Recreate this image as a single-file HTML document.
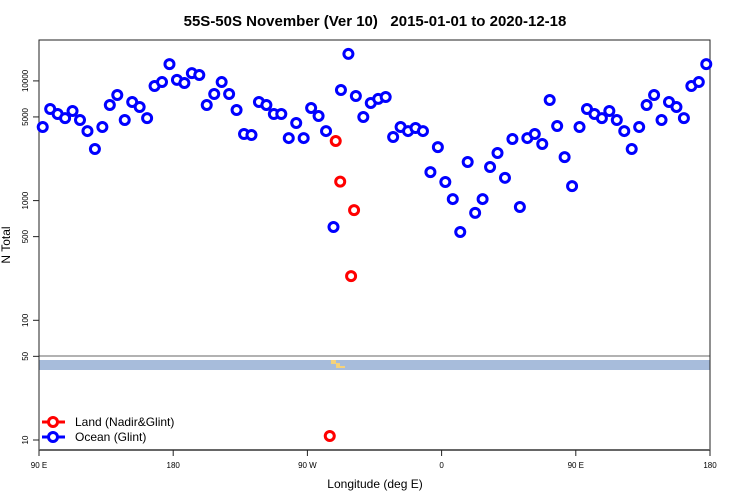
<!DOCTYPE html>
<html><head><meta charset="utf-8"><style>
body{margin:0;background:#fff}
svg{display:block;font-family:"Liberation Sans",sans-serif}
</style></head><body>
<svg id="chart" width="750" height="500">
<text x="375" y="26" text-anchor="middle" font-size="15" font-weight="bold" style="white-space:pre">55S-50S November (Ver 10)   2015-01-01 to 2020-12-18</text>
<rect x="39" y="360" width="671" height="10" fill="#a7bcdb"/>
<path d="M331,360 h5 v3 h4 v3 h5 v2 h-9 v-4 h-5z" fill="#f5d27a"/>
<line x1="39" y1="356" x2="710" y2="356" stroke="#999" stroke-width="1.5"/>
<path d="M39,450 V40 H710 V450" fill="none" stroke="#222" stroke-width="1"/>
<line x1="39" y1="450" x2="710" y2="450" stroke="#666" stroke-width="2"/>
<g id="yaxis"></g><g id="xaxis"></g><g id="marks"></g>
<text x="375" y="488" text-anchor="middle" font-size="12">Longitude (deg E)</text>
<text transform="translate(10,245) rotate(-90)" text-anchor="middle" font-size="12">N Total</text>
<g>
<line x1="42" y1="422" x2="65" y2="422" stroke="#f00" stroke-width="3"/>
<circle cx="53" cy="422" r="4.5" fill="#fff" stroke="#f00" stroke-width="3"/>
<text x="75" y="426" font-size="12">Land (Nadir&amp;Glint)</text>
<line x1="42" y1="437" x2="65" y2="437" stroke="#00f" stroke-width="3"/>
<circle cx="53" cy="437" r="4.5" fill="#fff" stroke="#00f" stroke-width="3"/>
<text x="75" y="441" font-size="12">Ocean (Glint)</text>
</g>
</svg>
<script>
const oceanValues=[4120,5820,5290,4890,5600,4710,3810,2700,4120,6290,7630,4710,6670,6050,4890,9060,9780,13800,10200,9600,11600,11200,6290,7780,9780,7780,5710,3600,3530,6670,6290,5290,5290,3330,4450,3330,5940,5090,3810,602,8400,16800,7480,4990,6540,7070,7340,3400,4120,3810,4040,3810,1730,2800,1430,1030,547,2100,789,1030,1910,2500,1550,3270,885,3330,3600,2970,6930,4200,2310,1320];
const landLons=[289,292,301.3,299.3,285];
const landValues=[3150,1440,832,234,10.8];
const yTicks=[10,50,100,500,1000,5000,10000];
const xTickLons=[90,180,270,360,450,540];
const xTickLabels=["90 E","180","90 W","0","90 E","180"];
const NS="http://www.w3.org/2000/svg";
function xs(lon){return 39+(lon-90)*671/450;}
function ys(v){return 440-(Math.log10(v)-1)*119.7;}
function mk(tag,attrs,parent){const e=document.createElementNS(NS,tag);for(const k in attrs)e.setAttribute(k,attrs[k]);document.getElementById(parent).appendChild(e);return e;}
yTicks.forEach(v=>{
 const y=ys(v);
 const t=mk('line',{x1:33,x2:39,y1:y,y2:y,stroke:'#222'},'yaxis');
 
 
 const l=mk('text',{transform:`translate(28,${y}) rotate(-90)`,'text-anchor':'middle','font-size':8},'yaxis');
 
 
 l.textContent=v;
});
xTickLons.forEach((lon,i)=>{
 const x=xs(lon);
 const t=mk('line',{x1:x,x2:x,y1:450,y2:456,stroke:'#222'},'xaxis');
 
 
 const l=mk('text',{x:x,y:468,'text-anchor':'middle','font-size':8},'xaxis');
 
 
 l.textContent=xTickLabels[i];
});
for(let i=0;i<90;i++){
 const lon=92.5+5*i;
 const v=oceanValues[i%oceanValues.length];
 const c=mk('circle',{cx:xs(lon),cy:ys(v),r:4.5,fill:'#fff',stroke:'#00f','stroke-width':3},'marks');
 
 
}
landLons.forEach((lon,i)=>{
 const c=mk('circle',{cx:xs(lon),cy:ys(landValues[i]),r:4.5,fill:'#fff',stroke:'#f00','stroke-width':3},'marks');
 
 
});
</script>
</body></html>
